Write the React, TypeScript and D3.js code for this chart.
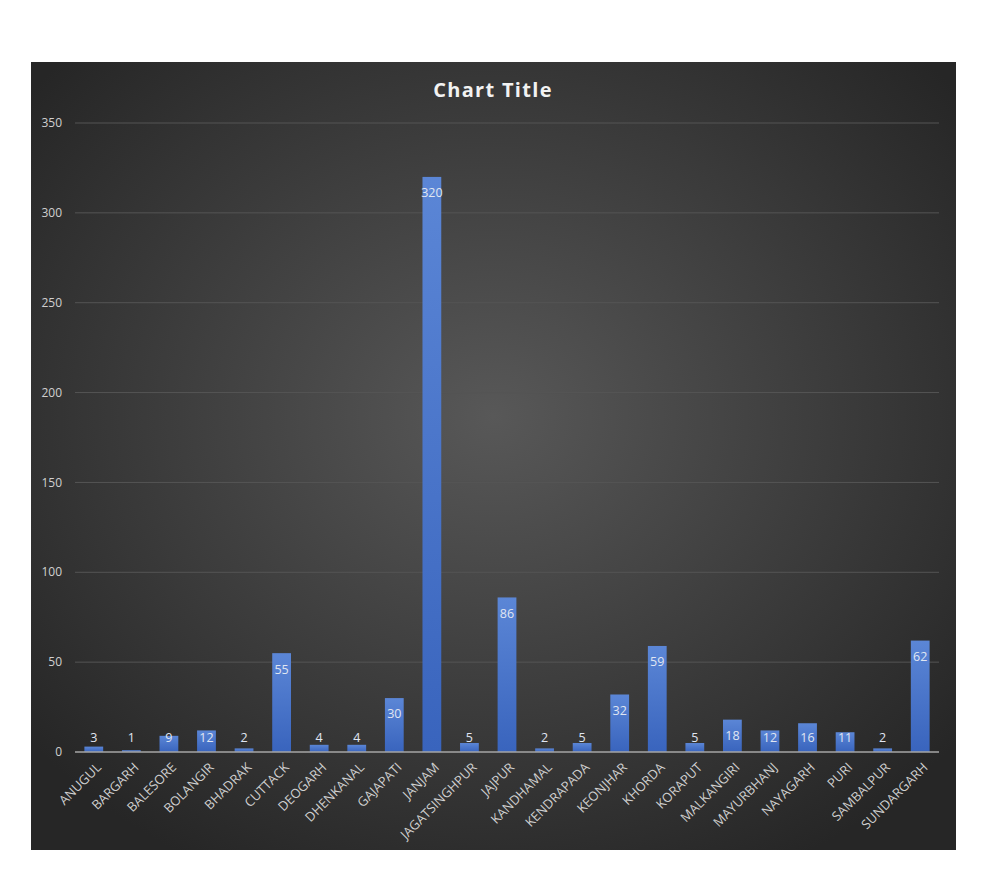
import React from "react";
import * as d3 from "d3";

const categories = ["ANUGUL","BARGARH","BALESORE","BOLANGIR","BHADRAK","CUTTACK","DEOGARH","DHENKANAL","GAJAPATI","JANJAM","JAGATSINGHPUR","JAJPUR","KANDHAMAL","KENDRAPADA","KEONJHAR","KHORDA","KORAPUT","MALKANGIRI","MAYURBHANJ","NAYAGARH","PURI","SAMBALPUR","SUNDARGARH"];
const values = [3,1,9,12,2,55,4,4,30,320,5,86,2,5,32,59,5,18,12,16,11,2,62];
const yTicks = [0,50,100,150,200,250,300,350];
const title = "Chart Title";

const W = 986, H = 875;
const panel = { x: 31, y: 62, w: 925, h: 788 };
const plot = { left: 75, right: 939, top: 123, bottom: 752 };
const font = "'Open Sans', 'Liberation Sans', sans-serif";

export default function App() {
  const x = d3.scaleBand<string>().domain(categories).range([plot.left, plot.right]).paddingInner(0.5).paddingOuter(0.25);
  const y = d3.scaleLinear().domain([0, 350]).range([plot.bottom, plot.top]);
  return (
    <div style={{ position: "absolute", left: 0, top: 0 }}>
      <svg width={W} height={H} style={{ display: "block", background: "#fff" }}>
        <defs>
          <radialGradient id="bg" cx="50%" cy="45%" r="65%">
            <stop offset="0%" stopColor="#585858" />
            <stop offset="100%" stopColor="#262626" />
          </radialGradient>
          <linearGradient id="bar" x1="0" y1="0" x2="0" y2="1">
            <stop offset="0%" stopColor="#5b86d6" />
            <stop offset="100%" stopColor="#3964bd" />
          </linearGradient>
        </defs>
        <rect x={panel.x} y={panel.y} width={panel.w} height={panel.h} fill="url(#bg)" />
        <text x={493} y={97} textAnchor="middle" fill="#f2f2f2" fontFamily={font} fontWeight={700} fontSize={20} letterSpacing={1.3}>{title}</text>
        {yTicks.map(t => (
          <g key={t}>
            {t > 0 && <line x1={plot.left} x2={plot.right} y1={y(t)} y2={y(t)} stroke="#555555" strokeWidth={1} />}
            <text x={62} y={y(t)} dy="0.35em" textAnchor="end" fill="#d0d0d0" fontFamily={font} fontSize={12}>{t}</text>
          </g>
        ))}
        {categories.map((c, i) => {
          const v = values[i];
          const bx = x(c)!;
          const bw = x.bandwidth();
          const top = y(v);
          const ly = Math.min(top + 16, plot.bottom - 14);
          return (
            <g key={c}>
              <rect x={bx} y={top} width={bw} height={plot.bottom - top} fill="url(#bar)" />
              <text x={bx + bw / 2} y={ly} dy="0.35em" textAnchor="middle" fill="#e0e6f2" fontFamily={font} fontSize={12.5}>{v}</text>
              <text transform={`translate(${bx + bw / 2 + 5},${plot.bottom + 13}) rotate(-45)`} textAnchor="end" dy="0.35em" fill="#d0d0d0" fontFamily={font} fontSize={13}>{c}</text>
            </g>
          );
        })}
        <line x1={plot.left} x2={plot.right} y1={plot.bottom} y2={plot.bottom} stroke="#a6a6a6" strokeWidth={1.5} />
      </svg>
    </div>
  );
}
